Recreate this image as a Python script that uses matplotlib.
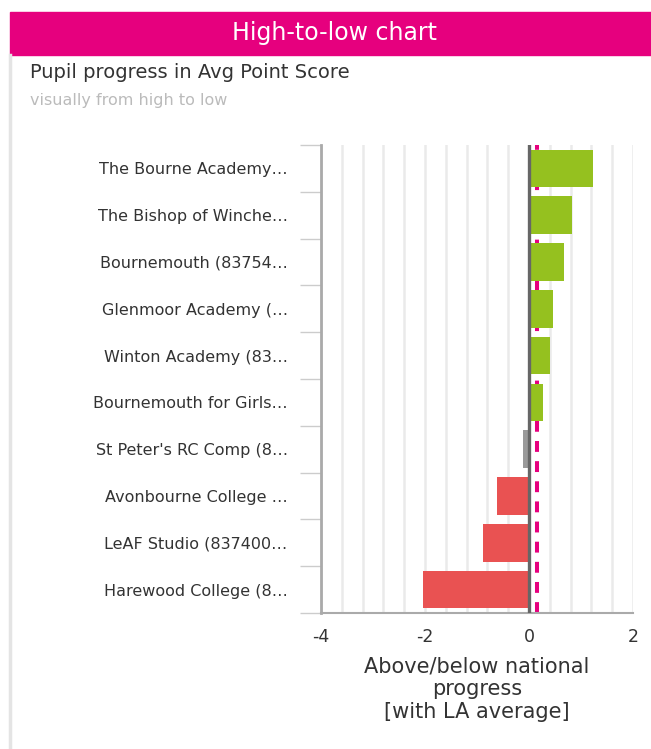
import matplotlib.pyplot as plt
from matplotlib.lines import Line2D
from matplotlib.patches import Rectangle
import numpy as np

# schools, top to bottom (labels truncated as in the dashboard)
schools = [
    "The Bourne Academy…",
    "The Bishop of Winche…",
    "Bournemouth (83754…",
    "Glenmoor Academy (…",
    "Winton Academy (83…",
    "Bournemouth for Girls…",
    "St Peter's RC Comp (8…",
    "Avonbourne College …",
    "LeAF Studio (837400…",
    "Harewood College (8…",
]
# progress vs national average
progress = [1.23, 0.82, 0.68, 0.47, 0.40, 0.26, -0.12, -0.62, -0.89, -2.03]
la_average = 0.15

GREEN = "#95C11F"
RED = "#E95252"
GREY = "#9A9A9A"
PINK = "#E6007E"

plt.rcParams['font.family'] = ['DejaVu Sans']

fig = plt.figure(figsize=(6.51, 7.49), dpi=100)

# header band
fig.patches.append(Rectangle((10 / 651, 1 - 55 / 749), 641 / 651, 43 / 749,
                             transform=fig.transFigure, color=PINK, zorder=0))
fig.text(335 / 651, 1 - 33 / 749, "High-to-low chart", color="white",
         fontsize=17, ha="center", va="center")
fig.text(30 / 651, 1 - 73 / 749, "Pupil progress in Avg Point Score", color="#333333",
         fontsize=14, ha="left", va="center")
fig.text(30 / 651, 1 - 100 / 749, "visually from high to low", color="#BBBBBB",
         fontsize=11.5, ha="left", va="center")
# faint left border of the panel
fig.lines.append(Line2D([10 / 651, 10 / 651], [0, 1 - 55 / 749], transform=fig.transFigure,
                        color="#E4E4E4", lw=2.5))

ax = fig.add_axes([321 / 651, 1 - 613 / 749, 312 / 651, 468 / 749])

y = np.arange(len(schools))
colors = []
for v in progress:
    if v >= 0:
        colors.append(GREEN)
    elif v > -0.3:
        colors.append(GREY)
    else:
        colors.append(RED)

# grid lines every 0.4
for gx in np.arange(-4, 2.01, 0.4):
    ax.axvline(gx, color="#EAEAEA", lw=1.8, zorder=0)

ax.axvline(la_average, color=PINK, lw=2.9, dashes=(2.7, 2.3), zorder=1)
ax.barh(y, progress, height=0.8, color=colors, zorder=2)
ax.axvline(0, color="#666666", lw=2.4, zorder=3)

ax.set_xlim(-4, 2)
ax.set_ylim(len(schools) - 0.5, -0.5)
ax.set_xticks([-4, -2, 0, 2])
ax.set_xticklabels(["-4", "-2", "0", "2"])
ax.set_yticks(y)
ax.set_yticklabels(schools)
ax.set_yticks(np.arange(-0.5, len(schools), 1), minor=True)

ax.tick_params(axis="y", which="major", length=0, pad=24, labelsize=11.5, labelcolor="#333333")
ax.tick_params(axis="y", which="minor", length=15, width=1, color="#CCCCCC")
ax.tick_params(axis="x", length=0, pad=11, labelsize=12.5, labelcolor="#333333")

for s in ["top", "right"]:
    ax.spines[s].set_visible(False)
ax.spines["left"].set_color("#AAAAAA")
ax.spines["left"].set_linewidth(2)
ax.spines["bottom"].set_color("#AAAAAA")
ax.spines["bottom"].set_linewidth(1.5)

ax.set_xlabel("Above/below national\nprogress\n[with LA average]", fontsize=15,
              color="#333333", labelpad=7, linespacing=1.2)

fig.savefig("out.png", dpi=100)
